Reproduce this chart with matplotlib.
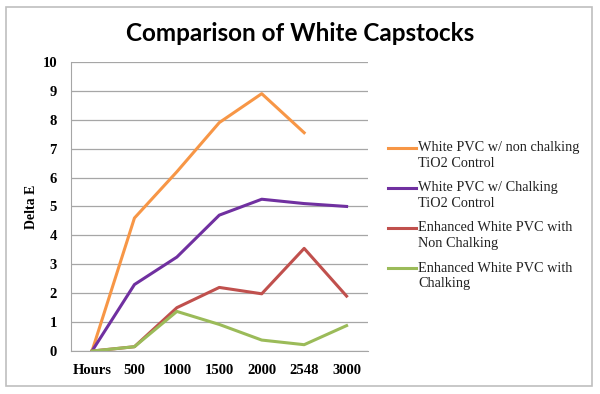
import matplotlib
matplotlib.use('Agg')
import matplotlib.pyplot as plt
from matplotlib.patches import Rectangle
from matplotlib.lines import Line2D

hours = ['Hours', '500', '1000', '1500', '2000', '2548', '3000']
orange_vals = [0, 4.6, 6.2, 7.9, 8.9, 7.55, None]
purple_vals = [0, 2.3, 3.25, 4.7, 5.25, 5.1, 5.0]
red_vals = [0, 0.15, 1.5, 2.2, 1.98, 3.55, 1.9]
green_vals = [0, 0.15, 1.37, 0.92, 0.38, 0.22, 0.88]
labels = ['White PVC w/ non chalking\nTiO2 Control',
          'White PVC w/ Chalking\nTiO2 Control',
          'Enhanced White PVC with\nNon Chalking',
          'Enhanced White PVC with\nChalking']
colors = ['#F79646', '#7030A0', '#C0504D', '#9BBB59']

fig = plt.figure(figsize=(6, 3.94), dpi=100)
ax = fig.add_axes([0.118, 0.109, 0.495, 0.734])

x = list(range(len(hours)))
for vals, lab, c in zip([orange_vals, purple_vals, red_vals, green_vals], labels, colors):
    xs = [i for i, v in zip(x, vals) if v is not None]
    ys = [v for v in vals if v is not None]
    ax.plot(xs, ys, color=c, lw=2.2, label=lab)

ax.set_xlim(-0.5, 6.5)
ax.set_ylim(0, 10)
ax.set_yticks(range(0, 11))
ax.set_xticks(x)
ax.set_xticklabels(hours)
ax.yaxis.grid(True, color='#A6A6A6', lw=0.9)
ax.set_axisbelow(True)
for s in ['top', 'right']:
    ax.spines[s].set_visible(False)
for s in ['left', 'bottom']:
    ax.spines[s].set_color('#A6A6A6')
ax.tick_params(axis='y', length=0, pad=10)
ax.tick_params(axis='x', length=0, pad=9)
for t in ax.get_xticklabels() + ax.get_yticklabels():
    t.set_fontfamily('Liberation Serif')
    t.set_fontweight('bold')
    t.set_fontsize(10.5)
ax.set_ylabel('Delta E', family='Liberation Serif', fontweight='bold', fontsize=10, labelpad=3)

fig.text(0.5, 0.915, 'Comparison of White Capstocks', ha='center', va='center',
         family='Lato', fontweight='bold', fontsize=17.5)

# legend drawn by hand so the key line sits beside the first text line
leg_x0, leg_x1, txt_x = 388 / 600, 416 / 600, 418 / 600
for i, (lab, c) in enumerate(zip(labels, colors)):
    ypx = 148 + 40 * i
    yy = 1 - ypx / 394
    fig.add_artist(Line2D([leg_x0, leg_x1], [yy, yy], transform=fig.transFigure, color=c, lw=2.2))
    for j, line in enumerate(lab.split('\n')):
        fig.text(txt_x, 1 - (ypx + 15 * j) / 394, line, ha='left', va='center',
                 family='Liberation Serif', fontsize=10.3, color='#222222')

fig.patches.append(Rectangle((0.01, 0.02), 0.977, 0.963, transform=fig.transFigure,
                             fill=False, edgecolor='#BFBFBF', lw=1.2))

fig.savefig('out.png', dpi=100)
